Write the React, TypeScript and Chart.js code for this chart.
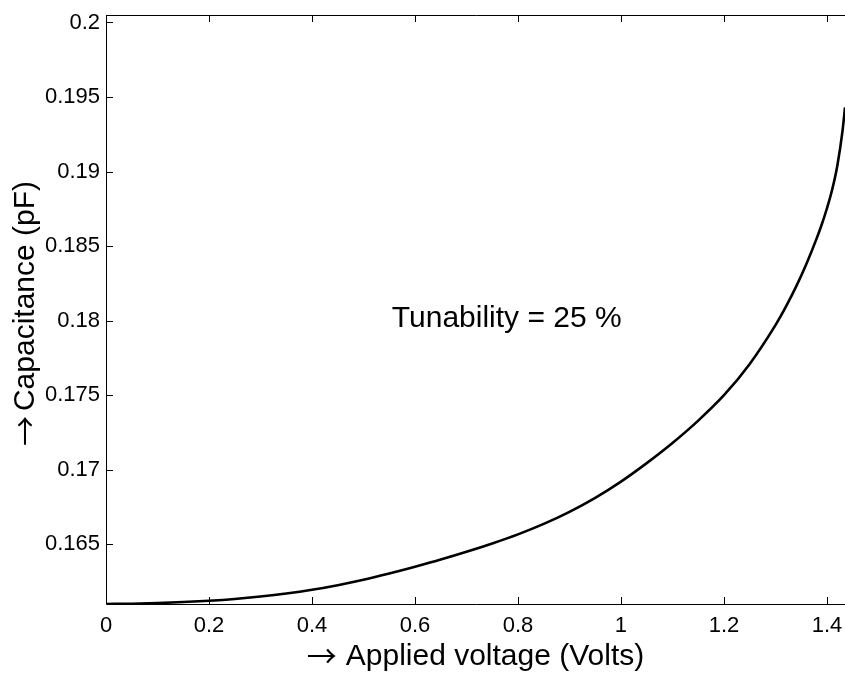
import React, { useEffect, useRef } from "react";
import { Chart, registerables } from "chart.js";

Chart.register(...registerables);

// Applied voltage (Volts)
const voltage = [
  0, 0.05, 0.1, 0.15, 0.2, 0.25, 0.3, 0.35, 0.4, 0.45, 0.5, 0.55, 0.6, 0.65, 0.7, 0.75,
  0.8, 0.85, 0.9, 0.95, 1.0, 1.05, 1.1, 1.15, 1.2, 1.25, 1.3, 1.32, 1.34, 1.36, 1.38,
  1.39, 1.4, 1.41, 1.42, 1.43, 1.435,
];
// Capacitance (pF)
const capacitance = [
  0.161, 0.16102, 0.16106, 0.16113, 0.16122, 0.16134, 0.1615, 0.1617, 0.16195, 0.16226,
  0.16262, 0.16304, 0.1635, 0.16398, 0.1645, 0.16506, 0.16567, 0.16637, 0.16718, 0.16812,
  0.16921, 0.17045, 0.1718, 0.1733, 0.175, 0.1771, 0.1797, 0.18092, 0.18228, 0.1838, 0.18552,
  0.18647, 0.18754, 0.18878, 0.19038, 0.19268, 0.1943,
];

const xTicks = [0, 0.2, 0.4, 0.6, 0.8, 1, 1.2, 1.4];
const xTickLabels = ["0", "0.2", "0.4", "0.6", "0.8", "1", "1.2", "1.4"];
const yTicks = [0.165, 0.17, 0.175, 0.18, 0.185, 0.19, 0.195, 0.2];
const yTickLabels = ["0.165", "0.17", "0.175", "0.18", "0.185", "0.19", "0.195", "0.2"];

const arrow = "\u2192";
const xTitle = "Applied voltage (Volts)";
const yTitle = "Capacitance (pF)";
const annotationText = "Tunability = 25 %";
const annotationPos = [0.555, 0.1796];

const FONT = '"Liberation Sans", Arial, Helvetica, sans-serif';
const ARROW_FONT = '"Noto Sans CJK JP", "DejaVu Sans", sans-serif';

function drawArrowTitle(ctx: any, text: string, start: number, baseline: number, gap: number) {
  ctx.font = `30px ${ARROW_FONT}`;
  const aw = ctx.measureText(arrow).width;
  ctx.fillText(arrow, start, baseline + 2);
  ctx.font = `30px ${FONT}`;
  ctx.fillText(text, start + aw + gap, baseline);
}

function titleWidth(ctx: any, text: string, gap: number) {
  ctx.font = `30px ${ARROW_FONT}`;
  const aw = ctx.measureText(arrow).width;
  ctx.font = `30px ${FONT}`;
  return aw + gap + ctx.measureText(text).width;
}

const framePlugin = {
  id: "frame",
  afterDraw(chart: any) {
    const { ctx, chartArea, scales } = chart;
    const { left, top, bottom } = chartArea;
    const xs = scales.x;
    const ys = scales.y;
    ctx.save();
    ctx.strokeStyle = "#000";
    ctx.lineWidth = 1;
    ctx.beginPath();
    ctx.moveTo(left + 0.5, top + 0.5);
    ctx.lineTo(chart.width + 2, top + 0.5);
    ctx.moveTo(left + 0.5, top + 0.5);
    ctx.lineTo(left + 0.5, bottom + 0.5);
    ctx.lineTo(chart.width + 2, bottom + 0.5);
    const tl = 7;
    xTicks.forEach((v) => {
      const px = Math.round(xs.getPixelForValue(v)) + 0.5;
      ctx.moveTo(px, bottom);
      ctx.lineTo(px, bottom - tl);
      ctx.moveTo(px, top);
      ctx.lineTo(px, top + tl);
    });
    yTicks.forEach((v) => {
      const py = Math.round(ys.getPixelForValue(v)) + 0.5;
      ctx.moveTo(left, py);
      ctx.lineTo(left + tl, py);
    });
    ctx.stroke();

    ctx.fillStyle = "#000";
    ctx.textAlign = "left";
    ctx.textBaseline = "alphabetic";

    // annotation
    ctx.font = `30px ${FONT}`;
    ctx.fillText(annotationText, xs.getPixelForValue(annotationPos[0]), ys.getPixelForValue(annotationPos[1]));

    // x title
    const xGap = 9;
    const xw = titleWidth(ctx, xTitle, xGap);
    const xcenter = (left + chart.width) / 2;
    drawArrowTitle(ctx, xTitle, xcenter - xw / 2, 665, xGap);

    // y title (rotated)
    const yGap = 5;
    const yw = titleWidth(ctx, yTitle, yGap);
    const ycenter = (top + bottom) / 2 + 4;
    ctx.save();
    ctx.translate(34, ycenter);
    ctx.rotate(-Math.PI / 2);
    drawArrowTitle(ctx, yTitle, -yw / 2, 0, yGap);
    ctx.restore();

    ctx.restore();
  },
};

export default function App() {
  const ref = useRef<HTMLCanvasElement | null>(null);
  useEffect(() => {
    if (!ref.current) return;
    const chart = new Chart(ref.current, {
      type: "line",
      data: {
        datasets: [
          {
            data: voltage.map((v, i) => ({ x: v, y: capacitance[i] })),
            borderColor: "#000",
            borderWidth: 2.6,
            pointRadius: 0,
            fill: false,
            cubicInterpolationMode: "monotone",
          },
        ],
      },
      options: {
        animation: false,
        responsive: false,
        layout: { padding: { top: 15, left: 0, right: 0, bottom: 0 } },
        plugins: { legend: { display: false }, tooltip: { enabled: false } },
        scales: {
          x: {
            type: "linear",
            min: 0,
            max: 1.435,
            grid: { display: false, drawTicks: false },
            border: { display: false },
            afterBuildTicks: (scale: any) => {
              scale.ticks = xTicks.map((v) => ({ value: v }));
            },
            afterFit: (scale: any) => {
              scale.height = 71;
              scale.paddingLeft = 0;
              scale.paddingRight = 0;
              scale.paddingTop = 0;
              scale.paddingBottom = 0;
            },
            ticks: {
              autoSkip: false,
              maxRotation: 0,
              padding: 9,
              color: "#000",
              font: { family: FONT, size: 22 },
              callback: (_v: any, i: number) => xTickLabels[i],
            },
            title: { display: false },
          },
          y: {
            type: "linear",
            min: 0.161,
            max: 0.2005,
            grid: { display: false, drawTicks: false },
            border: { display: false },
            afterBuildTicks: (scale: any) => {
              scale.ticks = yTicks.map((v) => ({ value: v }));
            },
            afterFit: (scale: any) => {
              scale.width = 106;
              scale.paddingLeft = 0;
              scale.paddingRight = 0;
              scale.paddingTop = 0;
              scale.paddingBottom = 0;
            },
            ticks: {
              autoSkip: false,
              padding: 6,
              color: "#000",
              font: { family: FONT, size: 22 },
              callback: (_v: any, i: number) => yTickLabels[i],
            },
            title: { display: false },
          },
        },
      },
      plugins: [framePlugin],
    } as any);
    return () => chart.destroy();
  }, []);
  return (
    <div style={{ position: "absolute", left: 0, top: 0, width: 845, height: 675, background: "#fff", overflow: "hidden" }}>
      <canvas ref={ref} width={845} height={675} style={{ display: "block" }} />
    </div>
  );
}
